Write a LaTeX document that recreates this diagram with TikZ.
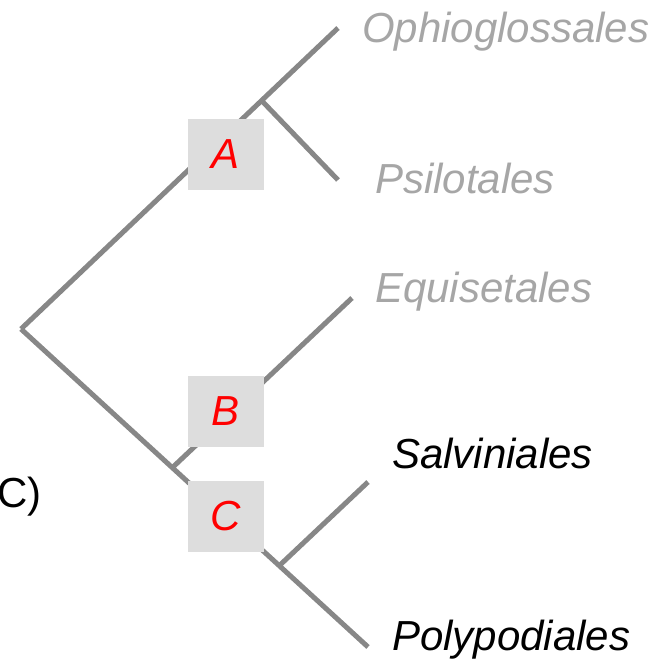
\documentclass[tikz,border=0pt]{standalone}
\usepackage{fontspec}
\setmainfont{Liberation Sans}
\definecolor{branchgray}{HTML}{878787}
\definecolor{boxgray}{HTML}{DDDDDD}
\definecolor{taxgray}{HTML}{A6A6A6}
\tikzset{
  branch/.style={draw=branchgray,line width=5pt},
  taxon/.style={anchor=base west,inner sep=0pt,font=\fontsize{42}{50}\selectfont\itshape},
  event/.style={fill=boxgray,minimum width=76pt,minimum height=71pt,inner sep=0pt,
    text=red,font=\fontsize{42}{50}\selectfont\itshape}
}
\begin{document}
\begin{tikzpicture}[x=1pt,y=-1pt]
      \useasboundingbox (0,0) rectangle (658,659);

      \coordinate (root) at (21,329);
      \coordinate (ab)   at (262,101);
      \coordinate (bc)   at (173,467);
      \coordinate (sp)   at (280,565);
      \coordinate (tOph) at (338,28);
      \coordinate (tPsi) at (338,180);
      \coordinate (tEqu) at (352,298);
      \coordinate (tSal) at (368,482);
      \coordinate (tPol) at (368,647);

      \draw[branch] (root) -- (tOph);
      \draw[branch] (ab) -- (tPsi);
      \draw[branch] (root) -- (tPol);
      \draw[branch] (bc) -- (tEqu);
      \draw[branch] (sp) -- (tSal);

      \node[event] (A) at (226,154.5) {A};
      \node[event] (B) at (226,411.5) {B};
      \node[event] (C) at (226,516.5) {C};

      \node[taxon,text=taxgray] (oph) at (362,42)  {Ophioglossales};
      \node[taxon,text=taxgray] (psi) at (375,193) {Psilotales};
      \node[taxon,text=taxgray] (equ) at (375,302) {Equisetales};
      \node[taxon] (sal) at (392,468) {Salviniales};
      \node[taxon] (pol) at (392,650) {Polypodiales};

      \node[anchor=base east,inner sep=0pt,font=\fontsize{42}{50}\selectfont] (part) at (42,507) {C)};
    \end{tikzpicture}
\end{document}
